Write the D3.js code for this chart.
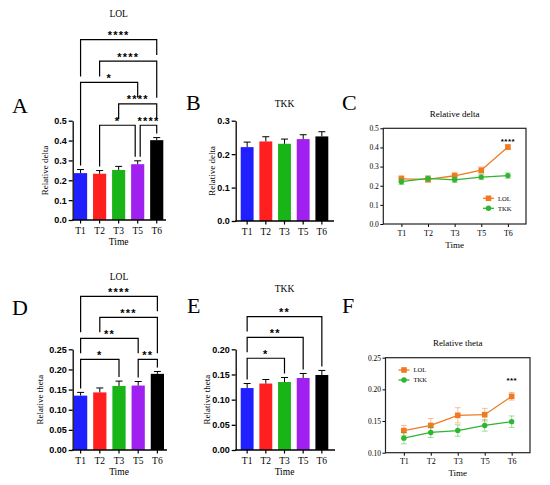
<!DOCTYPE html>
<html>
<head>
<meta charset="utf-8">
<script src="https://cdnjs.cloudflare.com/ajax/libs/d3/7.8.5/d3.min.js"></script>
<style>
  html, body { margin: 0; padding: 0; background: #fff; }
  svg { display: block; }
</style>
</head>
<body>
<svg id="fig" width="550" height="485"></svg>
<script>
// time points shared by all panels
var times = ["T1", "T2", "T3", "T5", "T6"];

// relative delta power (mean, SEM)
var lolDelta    = [0.236, 0.233, 0.252, 0.281, 0.402];
var lolDeltaErr = [0.018, 0.016, 0.018, 0.017, 0.013];
var tkkDelta    = [0.221, 0.238, 0.231, 0.245, 0.253];
var tkkDeltaErr = [0.015, 0.014, 0.014, 0.013, 0.014];

// relative theta power (mean, SEM)
var lolTheta    = [0.135, 0.143, 0.159, 0.160, 0.189];
var lolThetaErr = [0.008, 0.011, 0.012, 0.010, 0.006];
var tkkTheta    = [0.123, 0.132, 0.135, 0.143, 0.149];
var tkkThetaErr = [0.009, 0.008, 0.009, 0.009, 0.009];

// significance brackets: [from index, to index, stars, level]
var sigA = [[3, 4, "****", 0], [1, 3, "*", 0], [2, 4, "****", 1], [0, 3, "*", 2], [1, 4, "****", 3], [0, 4, "****", 4]];
var sigD = [[0, 2, "*", 0], [3, 4, "**", 0], [0, 3, "**", 1], [1, 4, "***", 2], [0, 4, "****", 3]];
var sigE = [[0, 2, "*", 0], [0, 3, "**", 1], [0, 4, "**", 2]];

// y tick values
var deltaTicksA = [0, 0.1, 0.2, 0.3, 0.4, 0.5];
var deltaTicksB = [0, 0.1, 0.2, 0.3];
var thetaTicksD = [0, 0.05, 0.10, 0.15, 0.20, 0.25];
var thetaTicksE = [0, 0.05, 0.10, 0.15, 0.20];
var deltaTicksC = [0, 0.1, 0.2, 0.3, 0.4, 0.5];
var thetaTicksF = [0.10, 0.15, 0.20, 0.25];

var barColors = ["#1f1fff", "#ff1f1f", "#18b418", "#a020f0", "#000000"];
var lolColor = "#f07a22", tkkColor = "#2fb52f";
var SERIF = "'Liberation Serif', 'Times New Roman', serif";
var SANS = "'Liberation Sans', Arial, sans-serif";

var svg = d3.select("#fig");

//面板字母
function panelLetter(t, x, y) {
  svg.append("text").attr("x", x).attr("y", y)
    .style("font-family", SERIF).style("font-size", "22px").text(t);
}

/**
 * bar chart with SEM and significance brackets
 */
function barPanel(c) {
  var g = svg.append("g");
  var y = d3.scaleLinear().domain([0, c.max]).range([c.bottom, c.top]);
  var x = d3.scaleBand().domain(times).range([c.barStart, c.barEnd]).paddingInner(0.31).paddingOuter(0);

  // y axis
  var ya = g.append("g").attr("transform", "translate(" + c.left + ",0)")
    .call(d3.axisLeft(y).tickValues(c.ticks).tickFormat(d3.format(c.fmt)).tickSize(4).tickSizeOuter(0).tickPadding(2));
  ya.selectAll("path, line").attr("stroke", "#000").attr("stroke-width", 1.3);
  ya.selectAll("text").style("font-family", SANS).style("font-weight", "bold").style("font-size", "9px").attr("fill", "#000");

  // bars
  g.selectAll("rect.bar").data(c.values).enter().append("rect")
    .attr("class", "bar")
    .attr("x", function(d, i) { return x(times[i]); })
    .attr("y", function(d) { return y(d); })
    .attr("width", x.bandwidth())
    .attr("height", function(d) { return c.bottom - y(d); })
    .attr("fill", function(d, i) { return barColors[i]; });

  // error bars (upper only)
  c.values.forEach(function(v, i) {
    var cx = x(times[i]) + x.bandwidth() / 2;
    g.append("line").attr("x1", cx).attr("x2", cx).attr("y1", y(v)).attr("y2", y(v + c.errs[i]))
      .attr("stroke", "#000").attr("stroke-width", 1);
    g.append("line").attr("x1", cx - 3.5).attr("x2", cx + 3.5).attr("y1", y(v + c.errs[i])).attr("y2", y(v + c.errs[i]))
      .attr("stroke", "#000").attr("stroke-width", 1);
  });

  // x axis
  g.append("line").attr("x1", c.left - 0.6).attr("x2", c.axisEnd).attr("y1", c.bottom).attr("y2", c.bottom)
    .attr("stroke", "#000").attr("stroke-width", 1.3);
  times.forEach(function(t) {
    var cx = x(t) + x.bandwidth() / 2;
    g.append("line").attr("x1", cx).attr("x2", cx).attr("y1", c.bottom).attr("y2", c.bottom + 3.5)
      .attr("stroke", "#000").attr("stroke-width", 1.2);
    g.append("text").attr("x", cx).attr("y", c.bottom + 14).attr("text-anchor", "middle")
      .style("font-family", SERIF).style("font-size", "9.5px").text(t);
  });
  if (c.showTime) {
    g.append("text").attr("x", (c.barStart + c.barEnd) / 2).attr("y", c.bottom + 25).attr("text-anchor", "middle")
      .style("font-family", SERIF).style("font-size", "9.5px").text("Time");
  }

  // labels
  g.append("text").attr("transform", "translate(" + c.ylabelX + "," + ((c.top + c.bottom) / 2) + ") rotate(-90)")
    .attr("text-anchor", "middle").style("font-family", SERIF).style("font-size", "9px").text(c.ylabel);
  g.append("text").attr("x", (c.barStart + c.barEnd) / 2).attr("y", c.titleY).attr("text-anchor", "middle")
    .style("font-family", SERIF).style("font-size", "9.5px").text(c.title);

  // significance brackets
  if (!c.sig) return;
  var brY = function(level) { return y(c.sigBase) - level * c.sigStep; };
  var legEnd = function(k, level) {
    var ends = [y(c.values[k] + c.errs[k]) - 4];
    c.sig.forEach(function(s) {
      if (s[3] < level && s[0] <= k && k <= s[1]) ends.push(brY(s[3]) - 6);
    });
    return d3.min(ends);
  };
  c.sig.forEach(function(s) {
    var yl = brY(s[3]);
    var x1 = x(times[s[0]]) + x.bandwidth() / 2;
    var x2 = x(times[s[1]]) + x.bandwidth() / 2;
    c.sig.forEach(function(o) {
      if (o === s || o[3] !== s[3]) return;
      if (o[1] === s[0]) x1 += 2.5;
      if (o[0] === s[1]) x2 -= 2.5;
    });
    var path = "M" + x1 + "," + legEnd(s[0], s[3]) + "V" + yl + "H" + x2 + "V" + legEnd(s[1], s[3]);
    g.append("path").attr("d", path).attr("fill", "none").attr("stroke", "#000").attr("stroke-width", 1.2);
    g.append("text").attr("x", (x1 + x2) / 2).attr("y", yl - 0.5).attr("text-anchor", "middle")
      .style("font-family", SANS).style("font-weight", "bold").style("font-size", "11px")
      .style("letter-spacing", "1.2px").text(s[2]);
  });
}

/**
 * line chart, two groups, boxed frame
 */
function linePanel(c) {
  var g = svg.append("g");
  var y = d3.scaleLinear().domain(c.domain).range([c.bottom, c.top]);
  var x = d3.scalePoint().domain(times).range([c.left, c.right]).padding(0.68);

  var ya = g.append("g").attr("transform", "translate(" + c.left + ",0)")
    .call(d3.axisLeft(y).tickValues(c.ticks).tickFormat(d3.format(c.fmt)).tickSize(3).tickSizeOuter(0).tickPadding(1.5));
  ya.select(".domain").remove();
  ya.selectAll("line").attr("stroke", "#000").attr("stroke-width", 1);
  ya.selectAll("text").style("font-family", SERIF).style("font-size", "7.5px").attr("fill", "#000");

  var xa = g.append("g").attr("transform", "translate(0," + c.bottom + ")")
    .call(d3.axisBottom(x).tickSize(3).tickSizeOuter(0).tickPadding(3));
  xa.select(".domain").remove();
  xa.selectAll("line").attr("stroke", "#000").attr("stroke-width", 1);
  xa.selectAll("text").style("font-family", SERIF).style("font-size", "8px").attr("fill", "#000");

  g.append("rect").attr("x", c.left).attr("y", c.top).attr("width", c.right - c.left).attr("height", c.bottom - c.top)
    .attr("fill", "none").attr("stroke", "#222").attr("stroke-width", 1.2);

  var line = d3.line().x(function(d, i) { return x(times[i]); }).y(function(d) { return y(d); });

  c.series.forEach(function(s) {
    // error bars
    s.values.forEach(function(v, i) {
      var cx = x(times[i]);
      var e = s.errs[i];
      g.append("path")
        .attr("d", "M" + cx + "," + y(v - e) + "V" + y(v + e) + "M" + (cx - 3) + "," + y(v + e) + "H" + (cx + 3) +
          "M" + (cx - 3) + "," + y(v - e) + "H" + (cx + 3))
        .attr("fill", "none").attr("stroke", s.color).attr("stroke-opacity", 0.45).attr("stroke-width", 1);
    });
    g.append("path").datum(s.values).attr("d", line).attr("fill", "none")
      .attr("stroke", s.color).attr("stroke-width", 1.3);
    s.values.forEach(function(v, i) {
      drawMarker(g, s.shape, x(times[i]), y(v), s.color);
    });
  });

  // legend
  c.series.forEach(function(s, i) {
    var ly = c.legendY + i * 10;
    g.append("line").attr("x1", c.legendX).attr("x2", c.legendX + 11).attr("y1", ly).attr("y2", ly)
      .attr("stroke", s.color).attr("stroke-width", 1.3);
    drawMarker(g, s.shape, c.legendX + 5.5, ly, s.color);
    g.append("text").attr("x", c.legendX + 15).attr("y", ly + 2.3)
      .style("font-family", SERIF).style("font-size", "6.5px").text(s.name);
  });

  // star at last point
  g.append("text").attr("x", x(times[times.length - 1])).attr("y", c.starY).attr("text-anchor", "middle")
    .style("font-family", SANS).style("font-weight", "bold").style("font-size", "8px")
    .style("letter-spacing", "0.4px").text(c.star);

  g.append("text").attr("x", (c.left + c.right) / 2).attr("y", c.titleY).attr("text-anchor", "middle")
    .style("font-family", SERIF).style("font-size", "9px").text(c.title);
  g.append("text").attr("x", (c.left + c.right) / 2).attr("y", c.bottom + 23.5).attr("text-anchor", "middle")
    .style("font-family", SERIF).style("font-size", "9px").text("Time");
}

function drawMarker(g, shape, cx, cy, color) {
  if (shape === "square") {
    g.append("rect").attr("x", cx - 2.8).attr("y", cy - 2.8).attr("width", 5.6).attr("height", 5.6).attr("fill", color);
  } else {
    g.append("circle").attr("cx", cx).attr("cy", cy).attr("r", 2.7).attr("fill", color);
  }
}

// ---- A ----
panelLetter("A", 12, 113);
barPanel({
  left: 72.7, axisEnd: 166, top: 120.7, bottom: 220, barStart: 74, barEnd: 163.3,
  max: 0.5, ticks: deltaTicksA, fmt: ".1f", values: lolDelta, errs: lolDeltaErr,
  title: "LOL", titleY: 17, ylabel: "Relative delta", ylabelX: 48, showTime: true,
  sig: sigA, sigBase: 0.477, sigStep: 21.4
});

// ---- B ----
panelLetter("B", 186, 110);
barPanel({
  left: 235.7, axisEnd: 334, top: 120.7, bottom: 221, barStart: 240.7, barEnd: 328.3,
  max: 0.3, ticks: deltaTicksB, fmt: ".1f", values: tkkDelta, errs: tkkDeltaErr,
  title: "TKK", titleY: 106.5, ylabel: "Relative delta", ylabelX: 214.5, showTime: false
});

// ---- C ----
panelLetter("C", 342, 110);
linePanel({
  left: 383.3, right: 526, top: 128.3, bottom: 224, domain: [0, 0.5], ticks: deltaTicksC, fmt: ".1f",
  series: [
    { name: "LOL", values: lolDelta, errs: lolDeltaErr, color: lolColor, shape: "square" },
    { name: "TKK", values: tkkDelta, errs: tkkDeltaErr, color: tkkColor, shape: "circle" }
  ],
  legendX: 483, legendY: 198.3, star: "****", starY: 143.5,
  title: "Relative delta", titleY: 116.5
});

// ---- D ----
panelLetter("D", 12, 315);
barPanel({
  left: 72.7, axisEnd: 167, top: 349.3, bottom: 450, barStart: 74, barEnd: 164,
  max: 0.25, ticks: thetaTicksD, fmt: ".2f", values: lolTheta, errs: lolThetaErr,
  title: "LOL", titleY: 279.5, ylabel: "Relative theta", ylabelX: 43, showTime: true,
  sig: sigD, sigBase: 0.2252, sigStep: 21
});

// ---- E ----
panelLetter("E", 187, 313);
barPanel({
  left: 235.7, axisEnd: 335, top: 349.3, bottom: 450, barStart: 240.7, barEnd: 328.3,
  max: 0.20, ticks: thetaTicksE, fmt: ".2f", values: tkkTheta, errs: tkkThetaErr,
  title: "TKK", titleY: 291.5, ylabel: "Relative theta", ylabelX: 209.5, showTime: true,
  sig: sigE, sigBase: 0.1822, sigStep: 20.8
});

// ---- F ----
panelLetter("F", 342, 313);
linePanel({
  left: 385.5, right: 530, top: 357.7, bottom: 452.7, domain: [0.10, 0.25], ticks: thetaTicksF, fmt: ".2f",
  series: [
    { name: "LOL", values: lolTheta, errs: lolThetaErr, color: lolColor, shape: "square" },
    { name: "TKK", values: tkkTheta, errs: tkkThetaErr, color: tkkColor, shape: "circle" }
  ],
  legendX: 398.5, legendY: 370, star: "***", starY: 383,
  title: "Relative theta", titleY: 346
});
</script>
</body>
</html>
